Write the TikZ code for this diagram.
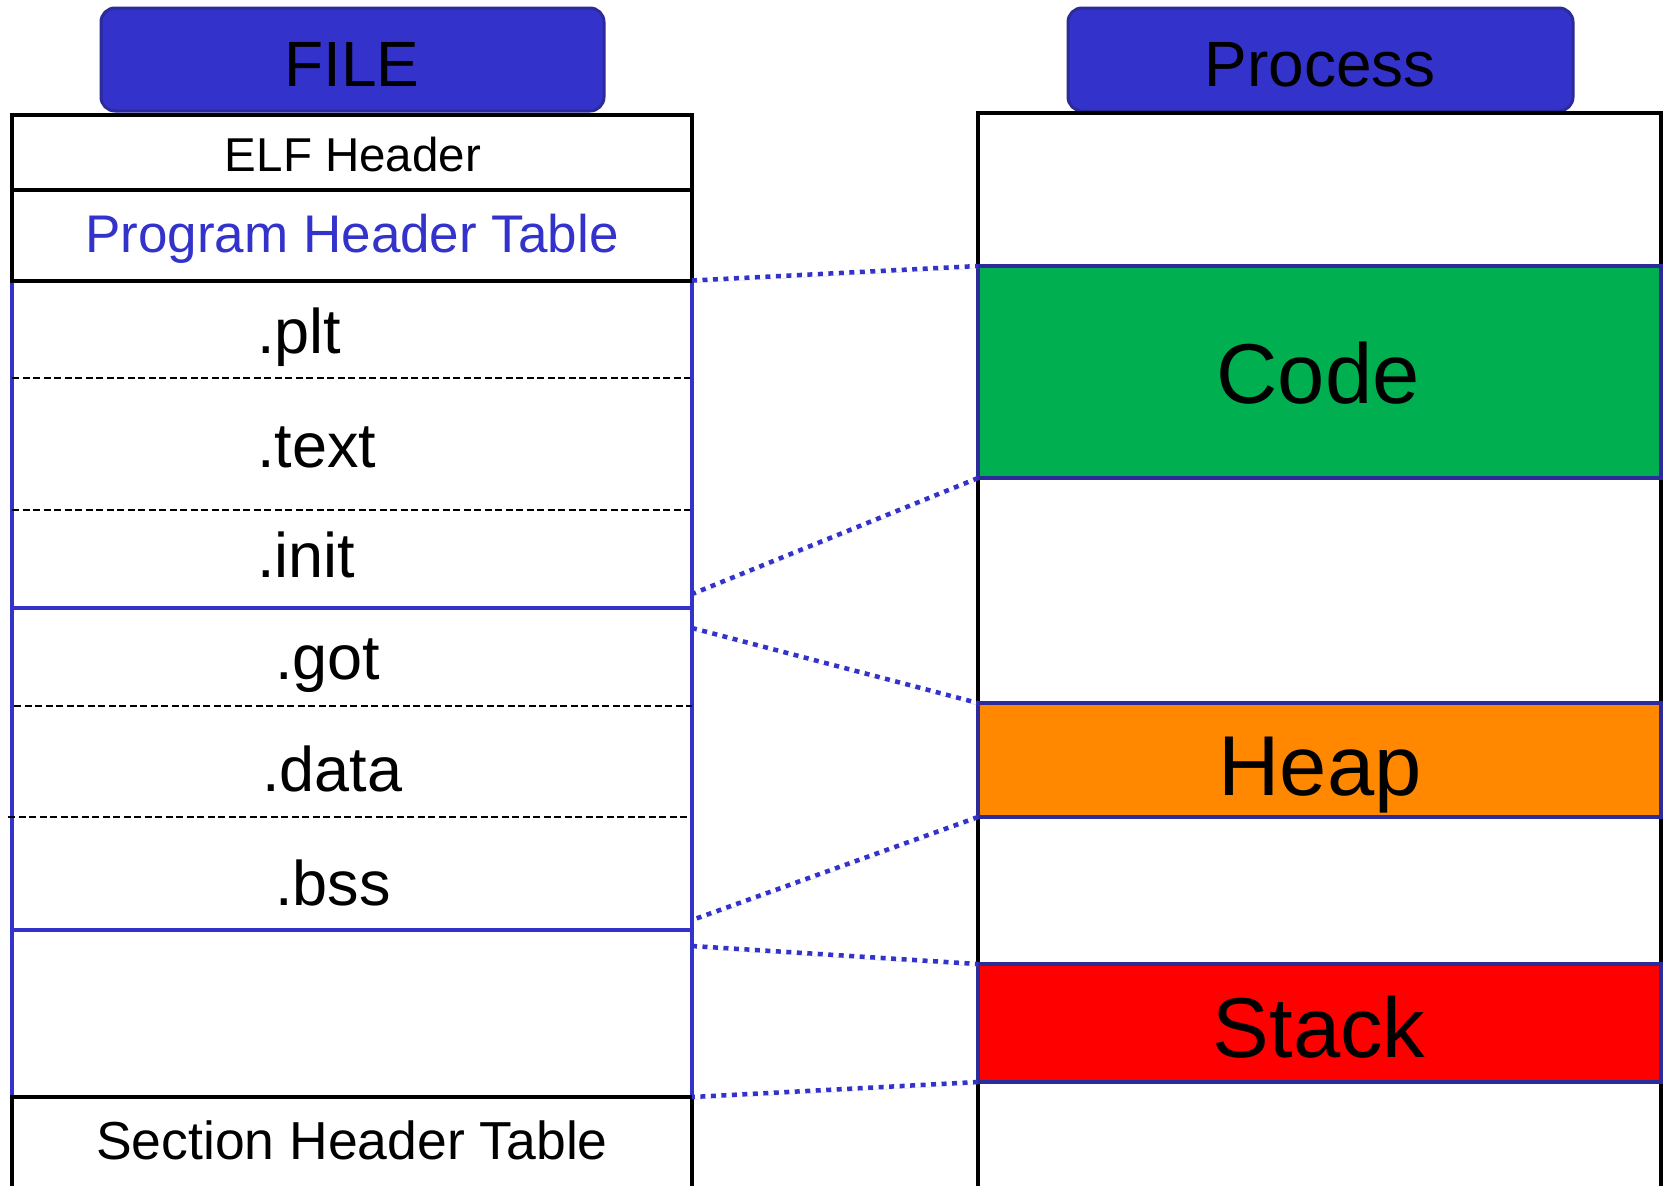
\documentclass[tikz,border=0pt]{standalone}
\usepackage{fontspec}
\setmainfont{Liberation Sans}
\definecolor{hblue}{HTML}{3333CC}
\definecolor{hborder}{HTML}{2B2B99}
\definecolor{codegreen}{HTML}{00AF50}
\definecolor{heaporange}{HTML}{FF8800}
\definecolor{stackred}{HTML}{FF0000}
\begin{document}
\begin{tikzpicture}[x=1pt,y=-1pt,
  box/.style={draw=black,line width=4pt,inner sep=0pt,outer sep=0pt},
  segbox/.style={draw=hblue,line width=4pt,inner sep=0pt,outer sep=0pt},
  membox/.style={draw=hborder,line width=4pt,inner sep=0pt,outer sep=0pt},
  titlebox/.style={draw=hborder,fill=hblue,line width=3pt,rounded corners=14pt,inner sep=0pt,outer sep=0pt},
  sepline/.style={draw=black,line width=2.2pt,dash pattern=on 7pt off 3.5pt},
  mapline/.style={draw=hblue,line width=4.5pt,dash pattern=on 5pt off 5.5pt,
     preaction={draw=black!45,opacity=0.25,transform canvas={shift={(1pt,-2.5pt)}}}},
  lbl/.style={inner sep=0pt,outer sep=0pt,anchor=base},
  seclbl/.style={inner sep=0pt,outer sep=0pt,anchor=base west,font=\fontsize{63}{66}\selectfont},
  biglbl/.style={inner sep=0pt,outer sep=0pt,anchor=base,font=\fontsize{85}{90}\selectfont}
]
\useasboundingbox (0,0) rectangle (1668,1186);
\fill[white] (0,0) rectangle (1668,1186);

% ---------- titles ----------
\node[titlebox,minimum width=503pt,minimum height=103pt] (filehdr) at (352.5,59.5) {};
\node[lbl,font=\fontsize{64}{70}\selectfont] (filetxt) at (352,86) {FILE};
\node[titlebox,minimum width=505pt,minimum height=103pt] (prochdr) at (1320.5,59.5) {};
\node[lbl,font=\fontsize{64}{70}\selectfont] (proctxt) at (1320,86) {Process};

% ---------- file column ----------
\node[segbox,minimum width=680pt,minimum height=327.5pt] (codeseg) at (352,444.25) {};
\node[segbox,minimum width=680pt,minimum height=322pt] (dataseg) at (352,769) {};
\node[segbox,minimum width=680pt,minimum height=167pt] (gapseg) at (352,1013.5) {};
\draw[sepline] (12,378) -- (690,378);
\draw[sepline] (12,510) -- (690,510);
\draw[sepline] (14,706) -- (692,706);
\draw[sepline] (8,817) -- (688,817);
\node[box,minimum width=680pt,minimum height=75pt] (elf) at (352,152.5) {};
\node[box,minimum width=680pt,minimum height=90.5pt] (pht) at (352,235.25) {};
\node[box,minimum width=680pt,minimum height=95pt] (sht) at (352,1144.5) {};

\node[lbl,font=\fontsize{47.5}{50}\selectfont] (elftxt) at (353,171) {ELF Header};
\node[lbl,font=\fontsize{53}{58}\selectfont,text=hblue] (phttxt) at (352,252) {Program Header Table};
\node[lbl,font=\fontsize{53.5}{60}\selectfont] (shttxt) at (352,1159) {Section Header Table};

\node[seclbl] (plt) at (257,353) {.plt};
\node[seclbl] (text) at (257,467) {.text};
\node[seclbl] (init) at (257,577) {.init};
\node[seclbl] (got) at (275,679) {.got};
\node[seclbl] (data) at (262,791) {.data};
\node[seclbl] (bss) at (275,905) {.bss};

% ---------- process column ----------
\node[box,minimum width=683pt,minimum height=1079pt] (proc) at (1319.5,652.5) {};
\node[membox,fill=codegreen,minimum width=683pt,minimum height=212pt] (code) at (1319.5,372) {};
\node[membox,fill=heaporange,minimum width=683pt,minimum height=114pt] (heap) at (1319.5,760) {};
\node[membox,fill=stackred,minimum width=683pt,minimum height=118pt] (stack) at (1319.5,1023) {};
\node[biglbl] (codetxt) at (1318,403) {Code};
\node[biglbl] (heaptxt) at (1320,795) {Heap};
\node[biglbl] (stacktxt) at (1319,1057) {Stack};

% ---------- mapping connectors ----------
\coordinate (initend) at (692,594);
\coordinate (gotstart) at (692,628);
\coordinate (bssend) at (692,920);
\coordinate (gapstart) at (692,946);
\draw[mapline] (pht.south east) -- (code.north west);
\draw[mapline] (code.south west) -- (initend);
\draw[mapline] (gotstart) -- (heap.north west);
\draw[mapline] (heap.south west) -- (bssend);
\draw[mapline] (gapstart) -- (stack.north west);
\draw[mapline] (stack.south west) -- (sht.north east);
\end{tikzpicture}
\end{document}
